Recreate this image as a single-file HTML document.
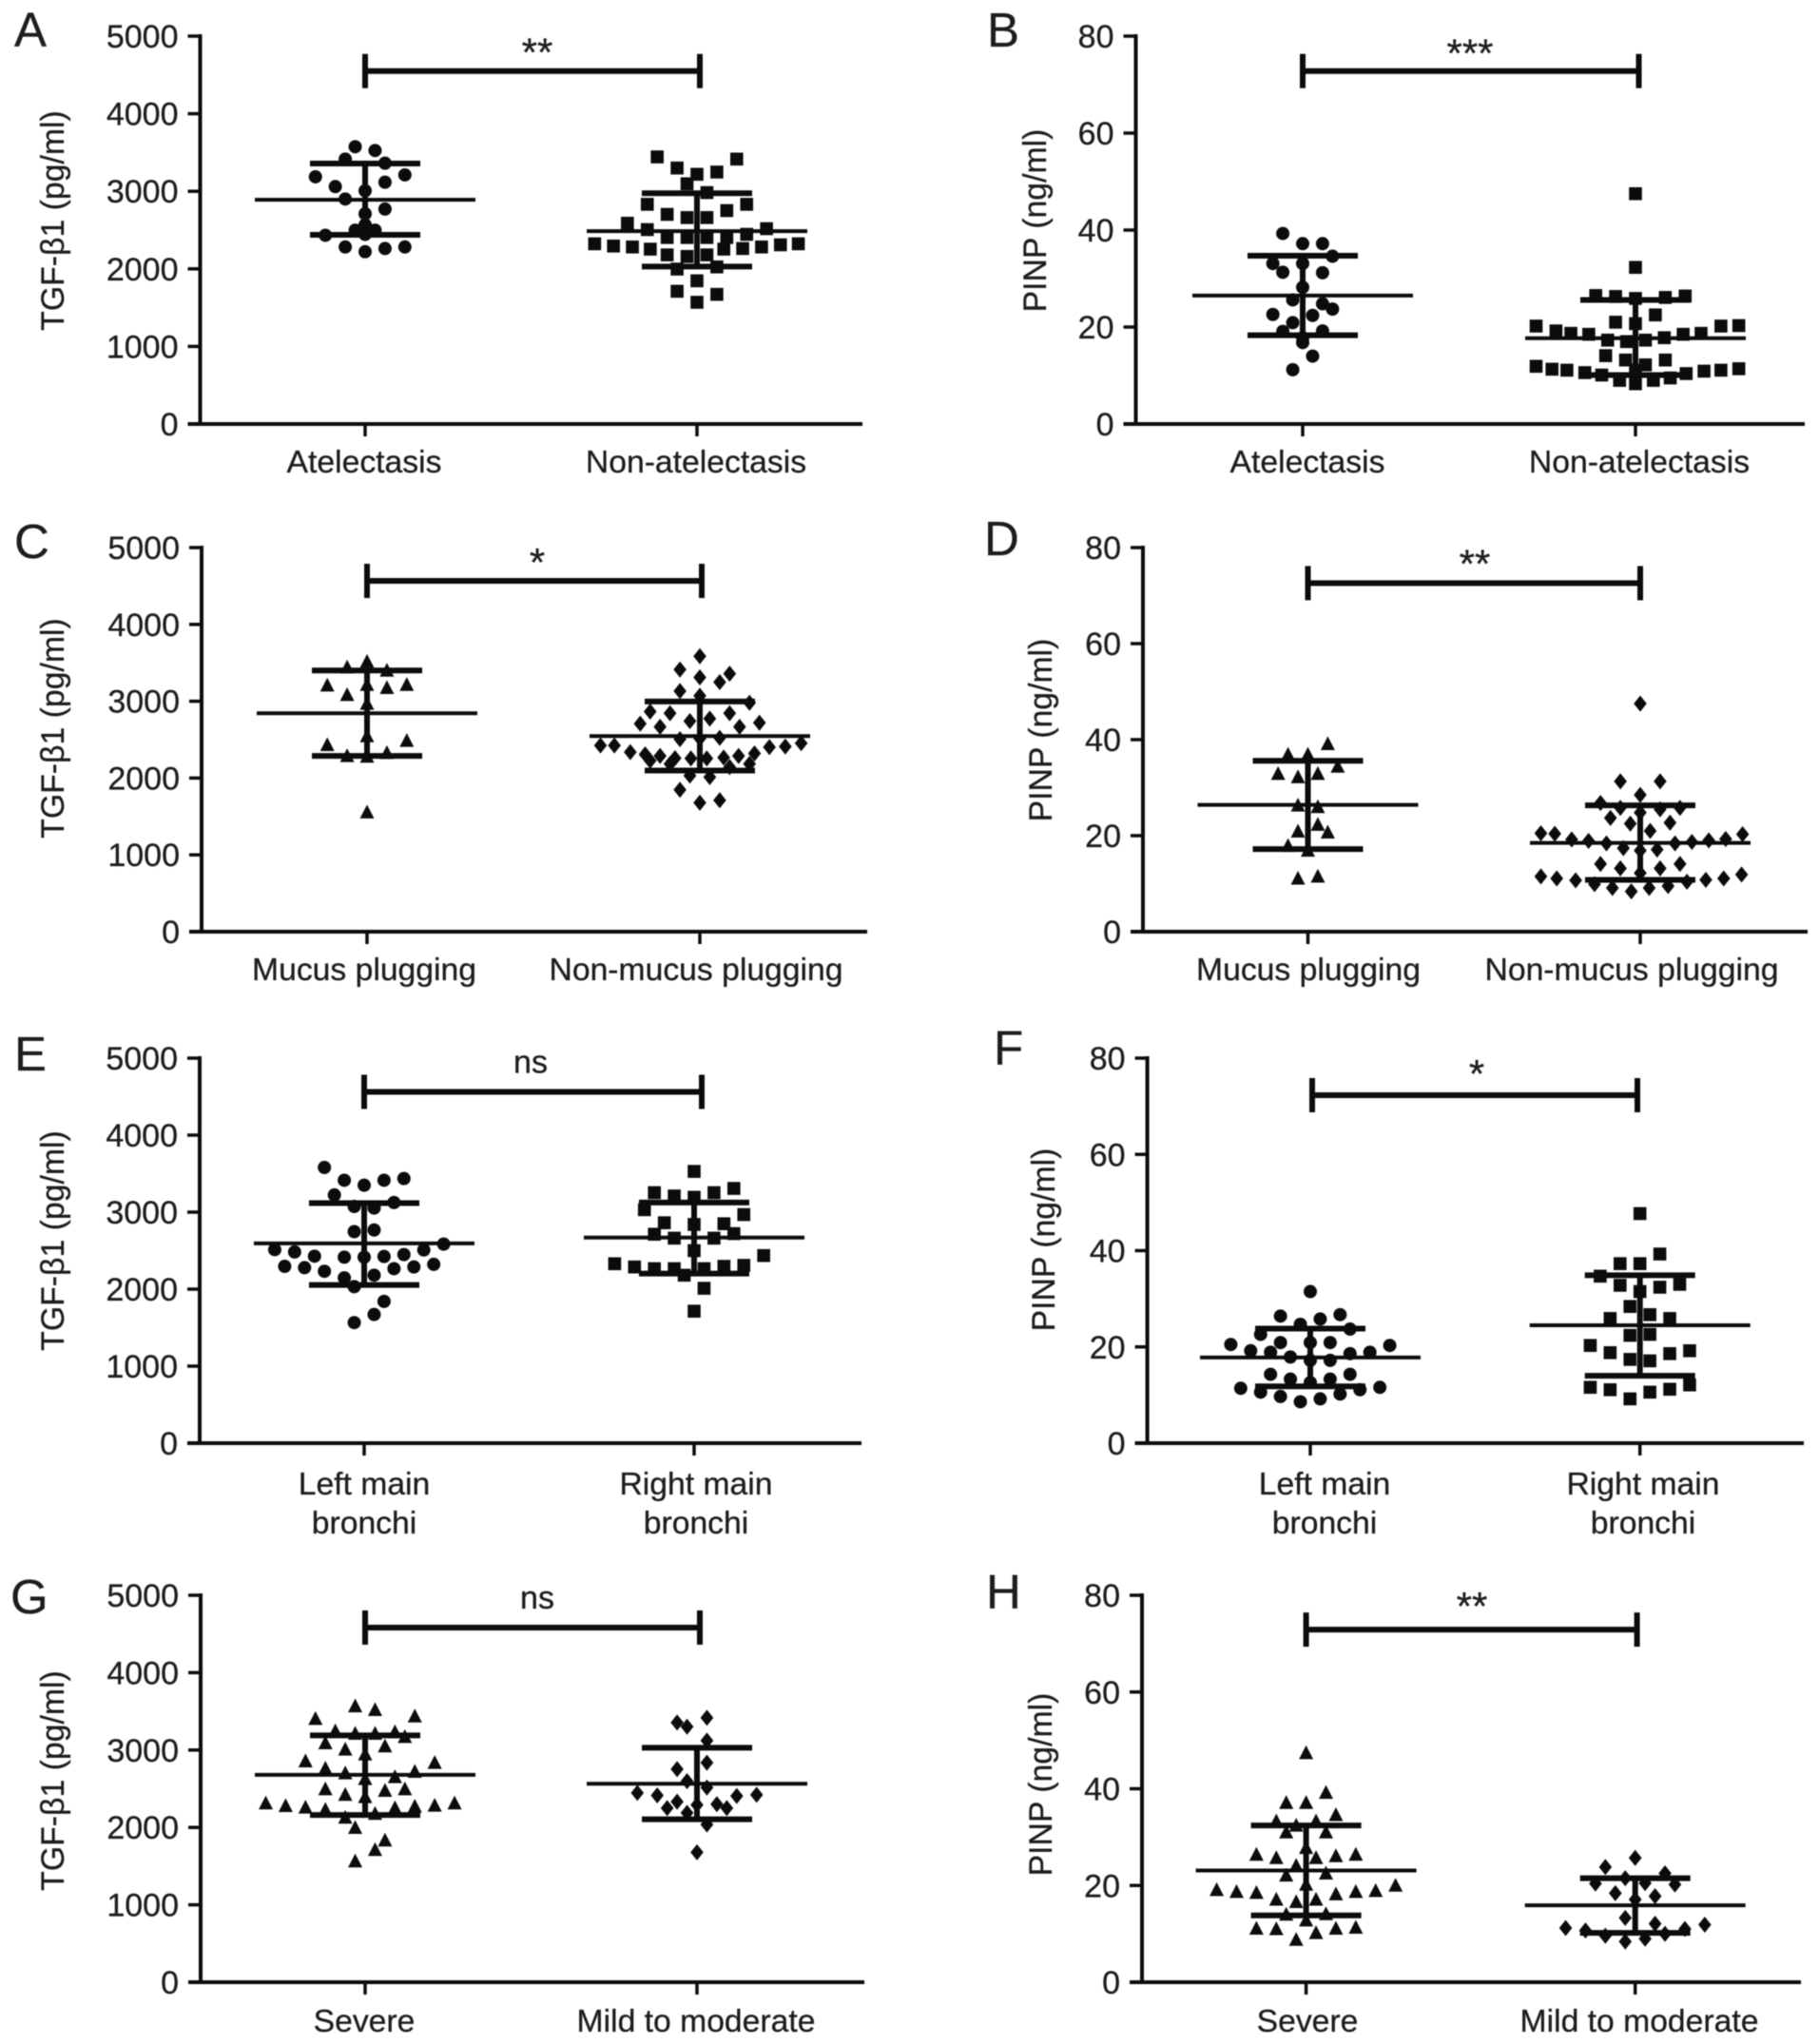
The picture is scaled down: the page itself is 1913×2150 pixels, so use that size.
<!DOCTYPE html>
<html lang="en">
<head>
<meta charset="utf-8">
<title>TGF-β1 and PINP scatter plots</title>
<style>
html,body{margin:0;padding:0;background:#fff;}
body{width:1913px;height:2150px;overflow:hidden;}
svg{display:block;filter:blur(0.5px);}
text{font-family:"Liberation Sans",Arial,sans-serif;fill:#1d1d1d;stroke:#1d1d1d;stroke-width:0.3px;}
</style>
</head>
<body>
<svg id="figure" width="1913" height="2150" viewBox="0 0 1913 2150" xmlns="http://www.w3.org/2000/svg"></svg>
<script>
/* ---------- tick labels ---------- */
const tgfTicks = [0, 1000, 2000, 3000, 4000, 5000];
const pinpTicks = [0, 20, 40, 60, 80];

/* ---------- categories ---------- */
const catsAB = [['Atelectasis'], ['Non-atelectasis']];
const catsCD = [['Mucus plugging'], ['Non-mucus plugging']];
const catsEF = [['Left main', 'bronchi'], ['Right main', 'bronchi']];
const catsGH = [['Severe'], ['Mild to moderate']];

/* ---------- series values; *Swarm = beeswarm column index of each value; *Stats = mean, upper SD, lower SD ---------- */
const aLeftValues = [3574,3525,3415,3362,3187,3211,3060,3117,3007,2900,2771,2710,2498,2498,2445,2433,2282,2262,2282,2221,2567];
const aLeftSwarm = [-1,1,-2,2,-5,4,-3,2,0,-2,2,0,-1,1,0,-4,-2,2,4,0,0];
const aLeftStats = [2890,3358,2439];
const aRightValues = [3443,3415,3300,3248,3219,3097,2983,2832,2832,2702,2751,2661,2661,2588,2506,2518,2445,2404,2404,2404,2404,2323,2294,2282,2254,2254,2262,2282,2310,2323,2180,2160,2180,1997,2025,1846,1711,1671,1569];
const aRightSwarm = [-4,4,-2,2,0,-1,1,-5,5,-3,3,-1,1,-7,-5,7,5,-3,-1,1,3,-10.3,-8.4,-6.5,-4.7,2.7,4.6,6.5,8.4,10.2,-3,-1,1,-2,2,0,-2,2,0];
const aRightStats = [2486,2975,2030];

const bLeftValues = [39.3,37.2,37.2,34.6,33.1,33.1,31.3,31.2,28.2,25.6,24.8,23.7,22.6,22.4,20.9,19.1,19.2,17.8,16.8,14.0,11.2];
const bLeftSwarm = [-2,0,2,3,-3,0,-2,2,0,-1,2,3,-3,1,-1,-2,2,0,0,1,-1];
const bLeftStats = [26.5,34.7,18.3];
const bRightValues = [47.5,32.3,26.5,26.3,25.9,26.1,26.4,22.5,21,20.7,20.2,19.2,18.7,18.5,20.2,20.3,18.7,18.5,17.8,17.3,17,17.3,14.1,13.2,13.2,12.2,11.9,11.3,11.1,10.6,10.1,9,8.3,9,9.5,10.4,10.9,11.1,11.4,11.1];
const bRightSwarm = [0,0,-4,-2,0,3,5,2,-2,0,-10,-8,-6.5,-4.7,8.6,10.4,6.6,4.8,2.9,-2.8,-0.9,1,-3,3,-1,1,-10,-8.4,-6.9,-5.1,-3.4,-1.6,0,1.8,3.5,5.1,6.9,8.6,10.4,0];
const bRightStats = [17.7,25.6,10.1];

const cLeftValues = [3516,3442,3400,3207,3215,3174,3215,3083,2968,2547,2432,2486,2288,2329,2280,1554];
const cLeftSwarm = [0,-2,2,-4,0,2,4,-2,0,0,-4,4,-2,2,0,0];
const cLeftStats = [2844,3400,2288];
const cRightValues = [3586,3413,3359,3310,3248,3133,3071,2980,2865,2844,2844,2741,2774,2708,2667,2720,2667,2506,2514,2523,2424,2424,2337,2308,2288,2259,2255,2255,2267,2288,2321,2403,2411,2453,2226,2185,2185,2143,2032,2012,1847,1678,1711];
const cRightSwarm = [0,-2,3,0,2,-2,0,5,-5,-3,3,-1,1,-6,-4,6,4,-2,0,2,-10,-8.6,-7,-5.5,-4,-2.5,-0.9,0.7,2.4,3.9,5.5,7,8.6,10.2,-5,-3,5,3,-1,1,-2,0,2];
const cRightStats = [2547,2997,2098];

const dLeftValues = [39.1,36.9,36.9,34.4,32.9,32.9,32.2,26.3,26,22.3,20.9,20.7,17.9,16.9,11.1,11.5];
const dLeftSwarm = [2,-2,0,3,-3,1,-1,-1,1,1,-1,2,-2,0,-1,1];
const dLeftStats = [26.4,35.6,17.2];
const dRightValues = [47.5,31.3,31.3,28.5,26.8,25.8,25.5,25.8,24.8,23.7,22.7,22.5,21,20.5,20.4,19.2,18.9,18.4,17.4,16.9,17.1,18.4,18.7,19,19.3,20.3,14.1,13.2,13.2,14.1,12.2,11.5,11.1,10.7,9.9,9.1,8.4,9.1,9.5,10.4,10.8,11.1,11.9];
const dRightSwarm = [0,-2,2,0,-4,-2,2,4,0,-3,3,-1,1,-10,-8.6,-6.9,-5.2,-3.4,-1.7,0,1.7,3.5,5.2,6.9,8.6,10.3,-4,-2,2,4,0,-10,-8.4,-6.5,-4.6,-2.8,-0.9,0.9,2.8,4.7,6.6,8.4,10.2];
const dRightStats = [18.5,26.3,10.8];

const eLeftValues = [3580,3414,3350,3414,3436,3223,3125,3074,3053,2747,2768,2585,2513,2483,2428,2415,2415,2424,2449,2509,2296,2279,2232,2147,2181,2266,2288,2322,2032,1841,1671,1565];
const eLeftSwarm = [-4,-2,0,2,4,-3,3,-1,1,-1,1,8,-9,-7,-5,-2,0,2,4,6,-8,-6,-4,-2,1,3,5,7,-1,2,1,-1];
const eLeftStats = [2594,3117,2054];
const eRightValues = [3529,3253,3210,3193,3253,3308,3032,2968,2862,2840,2849,2713,2721,2662,2662,2500,2436,2330,2288,2266,2266,2266,2296,2309,2181,2011,1714];
const eRightSwarm = [0,-4,-2,0,2,4,-5,5,-3,0,3,-4,4,-2,2,0,7,-8,-6,-4,-2,1,3,5,-1,1,0];
const eRightStats = [2670,3125,2202];

const fLeftValues = [31.5,26.4,25.8,26.7,24.7,23.7,22.6,20.9,20.9,20.9,20.5,20.3,19.2,18.9,18.9,18.6,17.9,17.2,17.2,14.3,14.3,13.3,13.3,12.6,11.4,11.6,10.6,11.1,9.7,10.2,9.2,8.6];
const fLeftSwarm = [0,-3,1,3,-1,4,-5,0,-3,2,-8,8,-6,-4,6,4,-2,0,2,-4,4,-2,2,0,-7,7,-5,5,-3,3,1,-1];
const fLeftStats = [17.8,23.8,11.8];
const fRightValues = [47.7,39.3,37.3,37.3,34.7,33,32.8,32.4,31.5,28.4,26.7,25.9,25.9,22.4,22.6,20.3,19.2,18.8,18.6,17.4,17.1,12.1,11.6,11.1,11.2,10.6,9.2];
const fRightSwarm = [0,2,-2,0,-4,4,-2,2,0,-1,1,-3,3,-1,1,-5,5,-3,3,-1,1,5,-5,-3,3,1,-1];
const fRightStats = [24.5,34.9,14];

const gLeftValues = [3568,3519,3405,3437,3245,3212,3212,3233,3171,3089,3008,3049,2946,2856,2836,2762,2701,2721,2652,2627,2496,2496,2476,2423,2394,2312,2279,2259,2230,2251,2271,2283,2312,2128,2177,1997,1833,1710,1563];
const gLeftSwarm = [-1,1,-5,5,-3,-1,1,3,4,-4,-2,2,0,-6,7,-4,-2,5,3,0,-4,4,2,-2,0,-10,-8,-6,-4,3,5,7,9,-2,1,-1,2,1,-1];
const gLeftStats = [2680,3190,2160];
const gRightValues = [3417,3355,3302,3122,2836,2754,2598,2516,2447,2414,2422,2406,2332,2250,2291,2300,2250,2189,2038,1678];
const gRightSwarm = [1,-2,-1,1,1,-2,-1,1,-6,-4,6,4,-2,-3,0,2,3,-1,1,0];
const gRightStats = [2565,3030,2105];

const hLeftValues = [47.4,39.2,37.1,37.1,34.6,33.3,32.4,33.3,31,31,27.8,26.4,25.7,25.7,26.1,26.4,24.1,22.1,22.5,20.2,19.1,18.7,18.5,17.1,16.6,17.1,18.2,18.7,18.9,20,14,14.1,12.8,11.1,11,10.2,11.1,11.3,8.8];
const hLeftSwarm = [0,2,-2,0,3,-3,-1,1,-2,2,0,-5,-3,1,3,5,-1,-2,2,0,-9,-7,-5,-3,-1,1,3,5,7,9,-2,2,0,-5,-3,1,3,5,-1];
const hLeftStats = [23.1,32.4,13.8];
const hRightValues = [25.7,23.8,22.5,21.5,20.4,20.5,20.2,18.4,17.8,17.1,13.3,12.1,11.9,11.2,10.7,11,9.6,8.4,9,10];
const hRightSwarm = [0,-3,3,-1,-4,1,4,-2,2,0,-1,2,7,-7,-5,5,-3,-1,1,3];
const hRightStats = [15.9,21.5,10.2];

/* ---------- bracket heights in axis units ---------- */
const bracketLevels = {A:4550, B:72.8, C:4567, D:72.6, E:4562, F:72.3, G:4583, H:72.9};
const significance = {A:'**', B:'***', C:'*', D:'**', E:'ns', F:'*', G:'ns', H:'**'};

/* ---------- panel layout ---------- */
const panels = [
 {id:'A',yTitle:'TGF-β1 (pg/ml)',ticks:tgfTicks,max:5000,cats:catsAB,axisX:210.5,endX:907,top:38,y0:446,tx:[384,733],labelX:[383,732],brX:[384,736],sigX:565,sigLift:5,labelDrop:51,letter:[15,49],titleX:67,titleY:232,
  groups:[{v:aLeftValues,s:aLeftSwarm,st:aLeftStats,m:'circle'},{v:aRightValues,s:aRightSwarm,st:aRightStats,m:'square'}]},
 {id:'B',yTitle:'PINP (ng/ml)',ticks:pinpTicks,max:80,cats:catsAB,axisX:1194.5,endX:1898,top:38,y0:446,tx:[1370,1720],labelX:[1375,1724],brX:[1370,1723.5],sigX:1546,sigLift:4,labelDrop:51,letter:[1038,49],titleX:1100,titleY:232,
  groups:[{v:bLeftValues,s:bLeftSwarm,st:bLeftStats,m:'circle'},{v:bRightValues,s:bRightSwarm,st:bRightStats,m:'square'}]},
 {id:'C',yTitle:'TGF-β1 (pg/ml)',ticks:tgfTicks,max:5000,cats:catsCD,axisX:212,endX:912,top:576,y0:980,tx:[386,736],labelX:[383,732],brX:[386,738],sigX:565,sigLift:5,labelDrop:51,letter:[15,587],titleX:67,titleY:766,
  groups:[{v:cLeftValues,s:cLeftSwarm,st:cLeftStats,m:'triangle'},{v:cRightValues,s:cRightSwarm,st:cRightStats,m:'diamond'}]},
 {id:'D',yTitle:'PINP (ng/ml)',ticks:pinpTicks,max:80,cats:catsCD,axisX:1202,endX:1901,top:576,y0:980,tx:[1375.5,1725],labelX:[1376,1716],brX:[1375.5,1725],sigX:1551,sigLift:6,labelDrop:51,letter:[1035,584],titleX:1106,titleY:768,
  groups:[{v:dLeftValues,s:dLeftSwarm,st:dLeftStats,m:'triangle'},{v:dRightValues,s:dRightSwarm,st:dRightStats,m:'diamond'}]},
 {id:'E',yTitle:'TGF-β1 (pg/ml)',ticks:tgfTicks,max:5000,cats:catsEF,axisX:210,endX:906,top:1113,y0:1518,tx:[383,730],labelX:[383,732],brX:[383,738],sigX:558,sigLift:20,labelDrop:54,letter:[15,1126],titleX:67,titleY:1305,
  groups:[{v:eLeftValues,s:eLeftSwarm,st:eLeftStats,m:'circle'},{v:eRightValues,s:eRightSwarm,st:eRightStats,m:'square'}]},
 {id:'F',yTitle:'PINP (ng/ml)',ticks:pinpTicks,max:80,cats:catsEF,axisX:1206.6,endX:1897,top:1113,y0:1518,tx:[1378,1724.7],labelX:[1393,1728],brX:[1380,1722],sigX:1553,sigLift:8,labelDrop:54,letter:[1045,1120],titleX:1109,titleY:1304,
  groups:[{v:fLeftValues,s:fLeftSwarm,st:fLeftStats,m:'circle'},{v:fRightValues,s:fRightSwarm,st:fRightStats,m:'square'}]},
 {id:'G',yTitle:'TGF-β1 (pg/ml)',ticks:tgfTicks,max:5000,cats:catsGH,axisX:211,endX:909,top:1678,y0:2085,tx:[384,733],labelX:[383,732],brX:[384,736],sigX:565,sigLift:20,labelDrop:52,letter:[11,1697],titleX:67,titleY:1873,
  groups:[{v:gLeftValues,s:gLeftSwarm,st:gLeftStats,m:'triangle'},{v:gRightValues,s:gRightSwarm,st:gRightStats,m:'diamond'}]},
 {id:'H',yTitle:'PINP (ng/ml)',ticks:pinpTicks,max:80,cats:catsGH,axisX:1201,endX:1894,top:1678,y0:2085,tx:[1373.6,1719.7],labelX:[1375,1724],brX:[1373.6,1721.6],sigX:1548,sigLift:10,labelDrop:52,letter:[1037,1692],titleX:1106,titleY:1877,
  groups:[{v:hLeftValues,s:hLeftSwarm,st:hLeftStats,m:'triangle'},{v:hRightValues,s:hRightSwarm,st:hRightStats,m:'diamond'}]}
];

const NS = 'http://www.w3.org/2000/svg';
const SWARM_UNIT = 10.45;
const INK = '#0c0c0c';
const root = document.getElementById('figure');

function svgEl(tag, attrs, parent) {
  const el = document.createElementNS(NS, tag);
  for (const k in attrs) el.setAttribute(k, attrs[k]);
  parent.appendChild(el);
  return el;
}
function lineAttrs(x1, y1, x2, y2, w) {
  return {x1:x1, y1:y1, x2:x2, y2:y2, stroke:INK, 'stroke-width':w};
}

panels.forEach(function (p) {
  const yScale = function (v) { return p.y0 - (v / p.max) * (p.y0 - p.top); };
  const xScale = function (cat, slot) { return p.tx[cat] + slot * SWARM_UNIT; };

  const g = svgEl('g', {}, root);
  
  

  const letter = svgEl('text', {x:p.letter[0], y:p.letter[1], 'font-size':51}, g);
  letter.textContent = p.id;
  
  

  const title = svgEl('text', {x:0, y:0, 'font-size':33.8, 'text-anchor':'middle', transform:'translate(' + p.titleX + ' ' + p.titleY + ') rotate(-90)'}, g);
  title.textContent = p.yTitle;
  
  

  const yAxis = svgEl('line', lineAttrs(p.axisX, p.top - 2, p.axisX, p.y0 + 2, 4), g);
  
  

  const xAxis = svgEl('line', lineAttrs(p.axisX - 13, p.y0, p.endX, p.y0, 4), g);
  
  

  p.ticks.forEach(function (t) {
    const y = yScale(t);
    const tick = svgEl('line', lineAttrs(p.axisX - 13, y, p.axisX, y, 3.5), g);
    
    
    const lab = svgEl('text', {x:p.axisX - 23, y:y + 12, 'font-size':34, 'text-anchor':'end'}, g);
    lab.textContent = String(t);
    
    
  });

  p.cats.forEach(function (lines, c) {
    const tick = svgEl('line', lineAttrs(p.tx[c], p.y0, p.tx[c], p.y0 + 13, 3.5), g);
    
    
    lines.forEach(function (txt, i) {
      const lab = svgEl('text', {x:p.labelX[c], y:p.y0 + p.labelDrop + i * 41, 'font-size':33.7, 'text-anchor':'middle'}, g);
      lab.textContent = txt;
      
      
    });
  });

  p.groups.forEach(function (gr, c) {
    const series = svgEl('g', {fill:INK}, g);
    
    

    gr.v.forEach(function (val, i) {
      const cx = xScale(c, gr.s[i]);
      const cy = yScale(val);
      let mark;
      if (gr.m === 'circle') {
        mark = svgEl('circle', {cx:cx, cy:cy, r:7}, series);
      } else if (gr.m === 'square') {
        mark = svgEl('rect', {x:cx - 6.8, y:cy - 6.8, width:13.6, height:13.6}, series);
      } else if (gr.m === 'triangle') {
        mark = svgEl('polygon', {points:(cx - 7.5) + ',' + (cy + 6.5) + ' ' + (cx + 7.5) + ',' + (cy + 6.5) + ' ' + cx + ',' + (cy - 8)}, series);
      } else {
        mark = svgEl('polygon', {points:cx + ',' + (cy - 8.5) + ' ' + (cx + 6.8) + ',' + cy + ' ' + cx + ',' + (cy + 8.5) + ' ' + (cx - 6.8) + ',' + cy}, series);
      }
      
      
    });

    const cx0 = p.tx[c];
    const mean = svgEl('line', lineAttrs(cx0 - 116, yScale(gr.st[0]), cx0 + 116, yScale(gr.st[0]), 4), g);
    
    

    const whisker = svgEl('line', lineAttrs(cx0, yScale(gr.st[1]), cx0, yScale(gr.st[2]), 6), g);
    
    

    const capUp = svgEl('line', lineAttrs(cx0 - 58, yScale(gr.st[1]), cx0 + 58, yScale(gr.st[1]), 6), g);
    
    

    const capLow = svgEl('line', lineAttrs(cx0 - 58, yScale(gr.st[2]), cx0 + 58, yScale(gr.st[2]), 6), g);
    
    
  });

  const by = yScale(bracketLevels[p.id]);
  const brLine = svgEl('line', lineAttrs(p.brX[0], by, p.brX[1], by, 6), g);
  
  
  p.brX.forEach(function (bx) {
    const cap = svgEl('line', lineAttrs(bx, by - 18, bx, by + 18, 6), g);
    
    
  });

  const sigText = significance[p.id];
  const isNs = sigText === 'ns';
  const sig = svgEl('text', {x:p.sigX, y:by - p.sigLift, 'font-size':isNs ? 34 : 42, 'text-anchor':'middle'}, g);
  sig.textContent = sigText;
  
  
});
</script>
</body>
</html>
